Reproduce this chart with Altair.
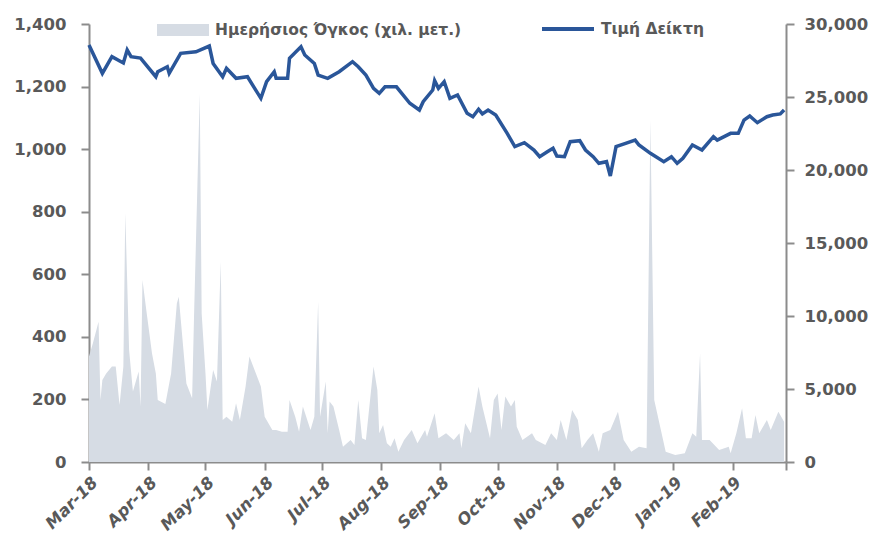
import altair as alt
import pandas as pd

AREA_LABEL = "Ημερήσιος Όγκος (χιλ. μετ.)"
LINE_LABEL = "Τιμή Δείκτη"

# Daily volume (thousand metric tons) - left axis
vol_dates = [
    "2018-03-01", "2018-03-03", "2018-03-06", "2018-03-07", "2018-03-08", "2018-03-10",
    "2018-03-13", "2018-03-15", "2018-03-17", "2018-03-19", "2018-03-20", "2018-03-22",
    "2018-03-24", "2018-03-27", "2018-03-28", "2018-03-29", "2018-03-31", "2018-04-03",
    "2018-04-05", "2018-04-06", "2018-04-10", "2018-04-12", "2018-04-13", "2018-04-16",
    "2018-04-17", "2018-04-21", "2018-04-24", "2018-04-25", "2018-04-28", "2018-04-29",
    "2018-05-01", "2018-05-02", "2018-05-05", "2018-05-07", "2018-05-09", "2018-05-10",
    "2018-05-12", "2018-05-15", "2018-05-17", "2018-05-19", "2018-05-22", "2018-05-24",
    "2018-05-30", "2018-06-01", "2018-06-05", "2018-06-07", "2018-06-10", "2018-06-13",
    "2018-06-14", "2018-06-17", "2018-06-19", "2018-06-21", "2018-06-25", "2018-06-27",
    "2018-06-29", "2018-06-30", "2018-07-03", "2018-07-04", "2018-07-05", "2018-07-07",
    "2018-07-10", "2018-07-12", "2018-07-16", "2018-07-18", "2018-07-20", "2018-07-22",
    "2018-07-24", "2018-07-28", "2018-07-30", "2018-07-31", "2018-08-02", "2018-08-04",
    "2018-08-06", "2018-08-08", "2018-08-10", "2018-08-13", "2018-08-17", "2018-08-20",
    "2018-08-24", "2018-08-25", "2018-08-29", "2018-08-31", "2018-09-04", "2018-09-08",
    "2018-09-11", "2018-09-12", "2018-09-14", "2018-09-17", "2018-09-21", "2018-09-23",
    "2018-09-27", "2018-09-29", "2018-10-01", "2018-10-03", "2018-10-05", "2018-10-08",
    "2018-10-10", "2018-10-11", "2018-10-14", "2018-10-19", "2018-10-21", "2018-10-26",
    "2018-10-29", "2018-11-01", "2018-11-03", "2018-11-06", "2018-11-09", "2018-11-12",
    "2018-11-14", "2018-11-17", "2018-11-20", "2018-11-23", "2018-11-25", "2018-11-29",
    "2018-12-03", "2018-12-06", "2018-12-10", "2018-12-14", "2018-12-18", "2018-12-20",
    "2018-12-22", "2018-12-28", "2019-01-02", "2019-01-07", "2019-01-11", "2019-01-13",
    "2019-01-15", "2019-01-16", "2019-01-20", "2019-01-25", "2019-01-30", "2019-01-31",
    "2019-02-03", "2019-02-06", "2019-02-08", "2019-02-11", "2019-02-13", "2019-02-15",
    "2019-02-19", "2019-02-21", "2019-02-25", "2019-02-28",
]
vol_values = [
    337, 379, 448, 198, 262, 283,
    305, 305, 182, 305, 796, 358,
    225, 289, 177, 582, 486, 347,
    283, 198, 185, 251, 283, 507,
    528, 251, 204, 464, 1178, 475,
    283, 166, 294, 257, 640, 134,
    145, 129, 188, 134, 241, 337,
    241, 145, 102, 102, 97, 97,
    198, 145, 97, 177, 102, 145,
    512, 145, 257, 92, 193, 177,
    102, 49, 70, 54, 198, 76,
    70, 305, 230, 92, 118, 60,
    49, 76, 33, 70, 102, 60,
    102, 81, 156, 76, 92, 70,
    92, 44, 124, 92, 241, 177,
    76, 198, 219, 102, 209, 177,
    198, 113, 70, 92, 70, 54,
    92, 70, 134, 70, 166, 134,
    44, 70, 92, 33, 92, 102,
    161, 70, 33, 49, 44, 1093,
    198, 33, 22, 28, 92, 81,
    347, 70, 70, 38, 49, 28,
    92, 172, 76, 76, 150, 92,
    134, 102, 161, 129,
]

# Index value - right axis
idx_dates = [
    "2018-03-01", "2018-03-08", "2018-03-13", "2018-03-19", "2018-03-21", "2018-03-23",
    "2018-03-28", "2018-04-05", "2018-04-06", "2018-04-11", "2018-04-12", "2018-04-18",
    "2018-04-26", "2018-05-03", "2018-05-05", "2018-05-10", "2018-05-12", "2018-05-17",
    "2018-05-23", "2018-05-30", "2018-06-02", "2018-06-06", "2018-06-07", "2018-06-13",
    "2018-06-14", "2018-06-20", "2018-06-22", "2018-06-27", "2018-06-29", "2018-07-04",
    "2018-07-10", "2018-07-17", "2018-07-20", "2018-07-24", "2018-07-28", "2018-07-31",
    "2018-08-03", "2018-08-09", "2018-08-16", "2018-08-21", "2018-08-23", "2018-08-28",
    "2018-08-29", "2018-08-31", "2018-09-03", "2018-09-06", "2018-09-10", "2018-09-15",
    "2018-09-18", "2018-09-21", "2018-09-23", "2018-09-26", "2018-09-30", "2018-10-06",
    "2018-10-10", "2018-10-15", "2018-10-20", "2018-10-23", "2018-10-27", "2018-10-30",
    "2018-11-01", "2018-11-05", "2018-11-08", "2018-11-13", "2018-11-16", "2018-11-20",
    "2018-11-23", "2018-11-27", "2018-11-29", "2018-12-02", "2018-12-07", "2018-12-12",
    "2018-12-14", "2018-12-20", "2018-12-27", "2018-12-31", "2019-01-03", "2019-01-06",
    "2019-01-11", "2019-01-16", "2019-01-22", "2019-01-24", "2019-01-31", "2019-02-04",
    "2019-02-07", "2019-02-10", "2019-02-14", "2019-02-19", "2019-02-22", "2019-02-26",
    "2019-02-28",
]
idx_values = [
    28560, 26620, 27760, 27330, 28220, 27760,
    27670, 26390, 26730, 27070, 26620, 27990,
    28100, 28490, 27300, 26390, 26960, 26280,
    26390, 24910, 26050, 26730, 26280, 26280,
    27650, 28440, 27880, 27300, 26500, 26280,
    26730, 27420, 27070, 26500, 25590, 25250,
    25700, 25700, 24570, 24110, 24680, 25480,
    26120, 25590, 26050, 24910, 25140, 23880,
    23650, 24160, 23840, 24110, 23770, 22510,
    21600, 21870, 21370, 20910, 21250, 21490,
    20960, 20910, 21940, 22010, 21370, 20910,
    20460, 20570, 19590, 21600, 21830, 22050,
    21710, 21140, 20570, 20910, 20460, 20800,
    21710, 21370, 22280, 22050, 22510, 22510,
    23420, 23700, 23240, 23650, 23770, 23840,
    24110,
]

# Axis ticks
month_ticks = [(2018, m) for m in range(3, 13)] + [(2019, 1), (2019, 2), (2019, 3)]
left_ticks = [0, 200, 400, 600, 800, 1000, 1200, 1400]
right_ticks = [0, 5000, 10000, 15000, 20000, 25000, 30000]

AREA_COLOR = "#D6DCE4"
LINE_COLOR = "#2A5699"
TEXT_COLOR = "#595959"
AXIS_COLOR = "#8C8C8C"
FONT = "DejaVu Sans"

vol_df = pd.DataFrame({"date": [d + "T00:00:00" for d in vol_dates],
                       "vol": vol_values, "series": AREA_LABEL})
idx_df = pd.DataFrame({"date": [d + "T00:00:00" for d in idx_dates],
                       "idx": idx_values, "series": LINE_LABEL})

x_scale = alt.Scale(domain=[alt.DateTime(year=2018, month=3, date=1),
                            alt.DateTime(year=2019, month=3, date=1)])
x_axis = alt.Axis(
    values=[alt.DateTime(year=y, month=m, date=1) for y, m in month_ticks],
    labelExpr="(year(datum.value) == 2019 && month(datum.value) == 2) ? '' : timeFormat(datum.value, '%b-%y')",
    labelAngle=-45,
    labelFontStyle="italic",
    labelPadding=4,
    labelOverlap=False,
    title=None,
)

area = alt.Chart(vol_df).mark_area(interpolate="linear").encode(
    x=alt.X("date:T", scale=x_scale, axis=x_axis),
    y=alt.Y("vol:Q", scale=alt.Scale(domain=[0, 1400], nice=False),
            axis=alt.Axis(values=left_ticks, format=",.0f", orient="left", title=None,
                          labelPadding=15, labelOverlap=False)),
    fill=alt.Fill("series:N", scale=alt.Scale(domain=[AREA_LABEL], range=[AREA_COLOR]),
                  legend=alt.Legend(orient="none", legendX=68, legendY=-20, title=None,
                                    symbolType="M-1,-0.23L1,-0.23L1,0.23L-1,0.23Z",
                                    symbolSize=2704, symbolStrokeWidth=0,
                                    labelOffset=6, padding=0)),
)

line = alt.Chart(idx_df).mark_line(strokeWidth=3.5, interpolate="linear").encode(
    x=alt.X("date:T", scale=x_scale),
    y=alt.Y("idx:Q", scale=alt.Scale(domain=[0, 30000], nice=False),
            axis=alt.Axis(values=right_ticks, format=",.0f", orient="right", title=None,
                          labelPadding=10, labelOverlap=False)),
    stroke=alt.Stroke("series:N", scale=alt.Scale(domain=[LINE_LABEL], range=[LINE_COLOR]),
                      legend=alt.Legend(orient="none", legendX=451, legendY=-23, title=None,
                                        symbolType="stroke", symbolSize=2704,
                                        symbolStrokeWidth=4, labelOffset=5, padding=0)),
)

chart = alt.layer(area, line).resolve_scale(y="independent").properties(
    width=697,
    height=438,
    autosize=alt.AutoSizeParams(type="none"),
    padding={"left": 81, "top": 16, "right": 83, "bottom": 80},
).configure_view(stroke=None).configure_axis(
    grid=False,
    labelFont=FONT,
    labelFontSize=16.5,
    labelFontWeight="bold",
    labelColor=TEXT_COLOR,
    domainColor=AXIS_COLOR,
    domainWidth=2,
    tickColor=AXIS_COLOR,
    tickWidth=2,
    tickSize=8,
).configure_legend(
    labelFont=FONT,
    labelFontSize=15.5,
    labelFontWeight="bold",
    labelColor=TEXT_COLOR,
    labelLimit=0,
)

chart.save("out.html", embed_options={"renderer": "svg", "actions": False})
